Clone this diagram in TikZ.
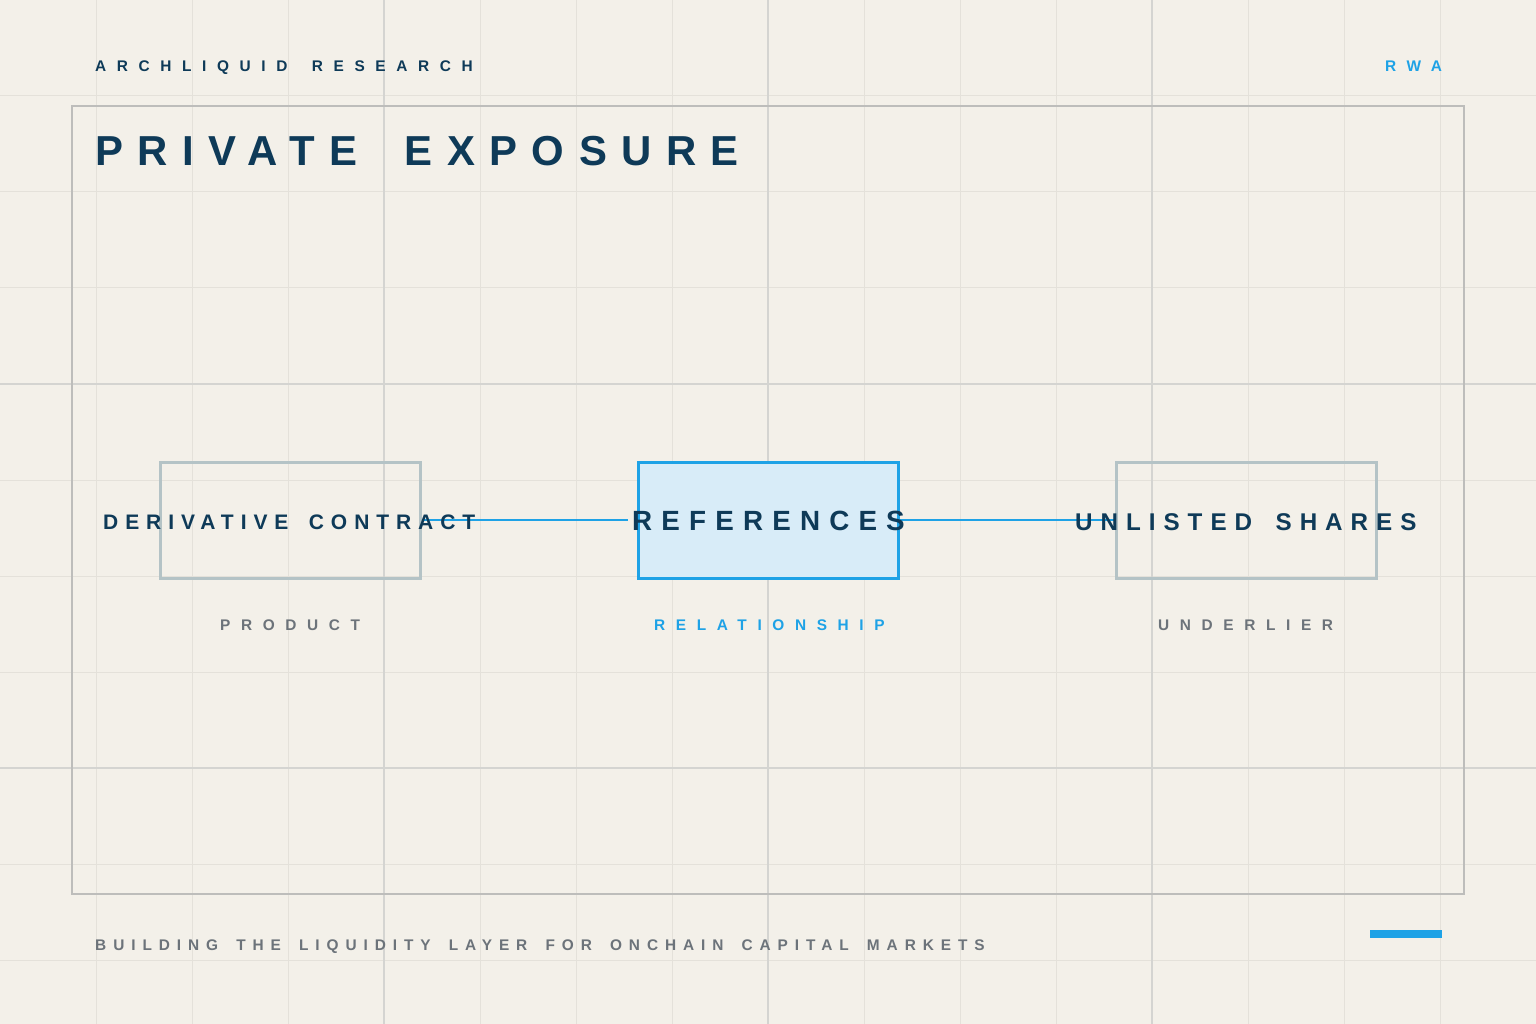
\documentclass[tikz,border=0pt]{standalone}
\usepackage{fontspec}
\setmainfont{Liberation Sans}
\newfontfamily\fhead{Liberation Sans Bold}[LetterSpace=69,WordSpace=1.64]
\newfontfamily\ffoot{Liberation Sans Bold}[LetterSpace=45,WordSpace=1.62]
\newfontfamily\ftitle{Liberation Sans Bold}[LetterSpace=34.6,WordSpace=1.8]
\newfontfamily\flabel{Liberation Sans Bold}[LetterSpace=33,WordSpace=1.6]
\definecolor{bgc}{HTML}{F3F0E9}
\definecolor{gridminor}{HTML}{E4E1DA}
\definecolor{gridmajor}{HTML}{D4D4D1}
\definecolor{framec}{HTML}{BDBDBB}
\definecolor{navy}{HTML}{0E3A58}
\definecolor{greytext}{HTML}{6C737A}
\definecolor{accent}{HTML}{1EA2E6}
\definecolor{boxgrey}{HTML}{B4C3C6}
\definecolor{boxfill}{HTML}{D8ECF8}
\pgfdeclarelayer{back}
\pgfdeclarelayer{mid}
\pgfsetlayers{back,mid,main}
\tikzset{
  minorline/.style={draw=gridminor, line width=1pt},
  majorline/.style={draw=gridmajor, line width=1.2pt},
  plainbox/.style={draw=boxgrey, line width=3pt, minimum width=260pt, minimum height=116pt, inner sep=0pt},
  keybox/.style={draw=accent, fill=boxfill, line width=3pt, minimum width=260pt, minimum height=116pt, inner sep=0pt},
  txt/.style={inner sep=0pt, anchor=base west},
  conn/.style={draw=accent, line width=2pt},
}
\begin{document}
\begin{tikzpicture}[x=1pt,y=-1pt]
\useasboundingbox (0,0) rectangle (1536,1024);
\begin{pgfonlayer}{back}
\fill[bgc] (0,0) rectangle (1536,1024);
\foreach \x in {96,192,...,1440} \draw[minorline] (\x,0) -- (\x,1024);
\foreach \y in {96,192,...,960} \draw[minorline] (0,\y) -- (1536,\y);
\foreach \x in {384,768,1152} \draw[majorline] (\x,0) -- (\x,1024);
\foreach \y in {384,768} \draw[majorline] (0,\y) -- (1536,\y);
\draw[framec, line width=1.5pt] (72,106) rectangle (1464,894);
\node[plainbox] (prod) at (290,520) {};
\node[keybox] (rel) at (768,520) {};
\node[plainbox] (under) at (1246,520) {};
\end{pgfonlayer}
% header
\node[txt, text=navy, font=\fhead\fontsize{15.4}{18}\selectfont] (brand) at (95,72) {ARCHLIQUID RESEARCH};
\node[txt, text=accent, font=\fhead\fontsize{15.4}{18}\selectfont] (tag) at (1385,72) {RWA};
\node[txt, text=navy, font=\ftitle\fontsize{41.9}{50}\selectfont] (title) at (95,166) {PRIVATE EXPOSURE};
% box labels
\node[txt, text=navy, font=\flabel\fontsize{21}{25}\selectfont] (prodt) at (103,529.5) {DERIVATIVE CONTRACT};
\node[txt, text=navy, font=\flabel\fontsize{27.8}{33}\selectfont] (relt) at (632,530) {REFERENCES};
\node[txt, text=navy, font=\flabel\fontsize{24.2}{29}\selectfont] (undert) at (1075,530) {UNLISTED SHARES};
% connectors
\begin{pgfonlayer}{mid}
\draw[conn] (prod.east) -- ([xshift=-4pt]relt.west |- prod.east);
\draw[conn] ([xshift=-7pt]relt.east |- under.west) -- (under.west);
\end{pgfonlayer}
% sublabels
\node[txt, text=greytext, font=\fhead\fontsize{15.4}{18}\selectfont] (prods) at (220,630) {PRODUCT};
\node[txt, text=accent, font=\fhead\fontsize{15.4}{18}\selectfont] (rels) at (654,630) {RELATIONSHIP};
\node[txt, text=greytext, font=\fhead\fontsize{15.4}{18}\selectfont] (unders) at (1158,630) {UNDERLIER};
% footer
\node[txt, text=greytext, font=\ffoot\fontsize{15.4}{18}\selectfont] (foot) at (95,950) {BUILDING THE LIQUIDITY LAYER FOR ONCHAIN CAPITAL MARKETS};
\fill[accent] (1370,930) rectangle (1442,938);
\end{tikzpicture}
\end{document}
